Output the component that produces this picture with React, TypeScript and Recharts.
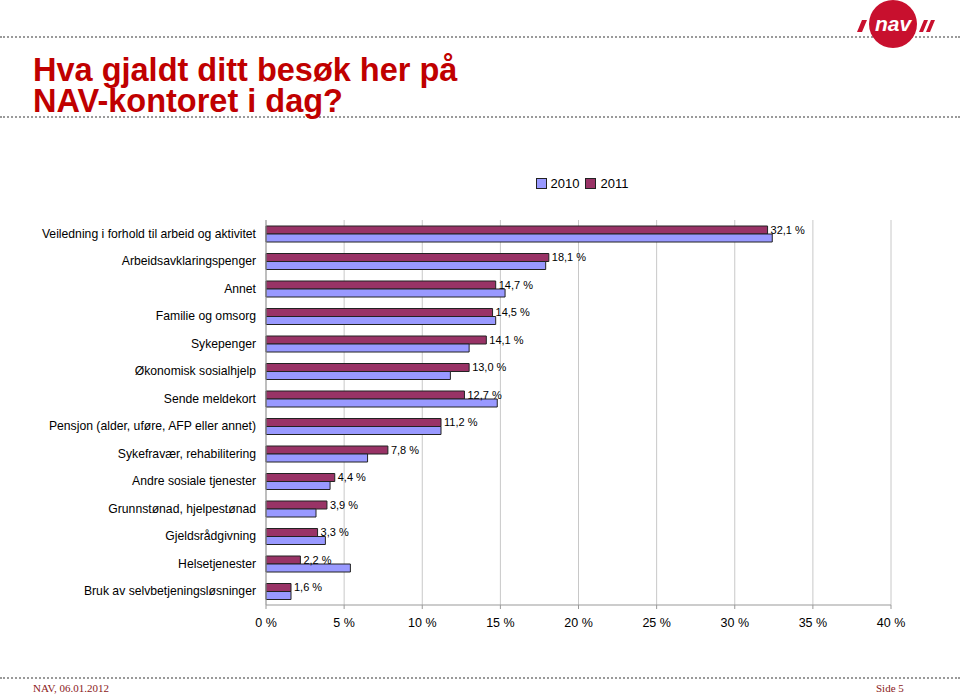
import React from "react";
import { BarChart, Bar, XAxis, YAxis, CartesianGrid, Legend, LabelList } from "recharts";

const categories = [
  "Veiledning i forhold til arbeid og aktivitet",
  "Arbeidsavklaringspenger",
  "Annet",
  "Familie og omsorg",
  "Sykepenger",
  "Økonomisk sosialhjelp",
  "Sende meldekort",
  "Pensjon (alder, uføre, AFP eller annet)",
  "Sykefravær, rehabilitering",
  "Andre sosiale tjenester",
  "Grunnstønad, hjelpestønad",
  "Gjeldsrådgivning",
  "Helsetjenester",
  "Bruk av selvbetjeningsløsninger",
];

const values2010 = [32.4, 17.9, 15.3, 14.7, 13.0, 11.8, 14.8, 11.2, 6.5, 4.1, 3.2, 3.8, 5.4, 1.6];
const values2011 = [32.1, 18.1, 14.7, 14.5, 14.1, 13.0, 12.7, 11.2, 7.8, 4.4, 3.9, 3.3, 2.2, 1.6];

const xTicks = [0, 5, 10, 15, 20, 25, 30, 35, 40];

const COLOR_2010 = "#9999ff";
const COLOR_2011 = "#993366";
const FONT = "'Liberation Sans', Arial, sans-serif";

const pct = (v: number) => `${v.toFixed(1).replace(".", ",")} %`;

const data = categories.map((name, i) => ({ name, y2010: values2010[i], y2011: values2011[i] }));

// plain tick so long names stay on one line
function CategoryTick(props: any) {
  const { x, y, payload } = props;
  return (
    <text x={x - 2} y={y} dy={4} textAnchor="end" fill="#000" fontSize={12.2} fontFamily={FONT}>
      {payload.value}
    </text>
  );
}

function LegendBox() {
  const item = (color: string, label: string, gap: number) => (
    <span style={{ display: "inline-flex", alignItems: "center", marginRight: gap }}>
      <span style={{ width: 9, height: 9, background: color, border: "1px solid #222", marginRight: 4 }} />
      <span>{label}</span>
    </span>
  );
  return (
    <div style={{ fontFamily: FONT, fontSize: 13, color: "#000", display: "flex", justifyContent: "center" }}>
      {item(COLOR_2010, "2010", 6)}
      {item(COLOR_2011, "2011", 0)}
    </div>
  );
}

function NavLogo() {
  return (
    <svg width={90} height={52} style={{ position: "absolute", left: 855, top: 0 }}>
      <circle cx={38} cy={24} r={24} fill="#c8102e" />
      <text x={38} y={31} textAnchor="middle" fill="#fff" fontFamily={FONT} fontWeight="bold" fontStyle="italic" fontSize={21}>
        nav
      </text>
      <polygon points="2,32 7,32 12,20 7,20" fill="#c8102e" />
      <polygon points="64,32 68,32 73,20 69,20" fill="#c8102e" />
      <polygon points="71,32 75,32 80,20 76,20" fill="#c8102e" />
    </svg>
  );
}

const titleStyle: React.CSSProperties = {
  position: "absolute",
  left: 33,
  height: 31,
  fontFamily: FONT,
  fontWeight: "bold",
  fontSize: 32.5,
  lineHeight: "31px",
  color: "#c00000",
  whiteSpace: "nowrap",
};

export default function App() {
  const dotted = (top: number) => (
    <div style={{ position: "absolute", left: 0, top, width: 960, borderTop: "2px dotted #9a9a9a" }} />
  );
  const footer: React.CSSProperties = {
    position: "absolute",
    top: 682,
    fontFamily: "'Liberation Serif', 'Times New Roman', serif",
    fontSize: 11,
    color: "#8b1a1a",
  };
  return (
    <div style={{ position: "absolute", left: 0, top: 0, width: 960, height: 698, background: "#fff", overflow: "hidden" }}>
      {dotted(36)}
      {dotted(116)}
      <NavLogo />
      <div style={{ ...titleStyle, top: 55 }}>Hva gjaldt ditt besøk her på</div>
      <div style={{ ...titleStyle, top: 86 }}>NAV-kontoret i dag?</div>

      <div style={{ position: "absolute", left: 0, top: 0 }}>
        <BarChart
          width={960}
          height={640}
          data={data}
          layout="vertical"
          margin={{ top: 205, right: 69, bottom: 5, left: 0 }}
          barGap={0}
          barSize={8}
        >
          <CartesianGrid horizontal={false} stroke="#c8c8c8" />
          <XAxis
            type="number"
            domain={[0, 40]}
            ticks={xTicks}
            tickFormatter={(v: number) => `${v} %`}
            height={30}
            stroke="#999"
            tickSize={4}
            tick={{ fill: "#000", fontSize: 12.5, fontFamily: FONT }}
            tickMargin={9}
          />
          <XAxis
            xAxisId="top"
            orientation="top"
            type="number"
            domain={[0, 40]}
            height={0}
            tick={false}
            tickLine={false}
            axisLine={{ stroke: "#c8c8c8" }}
          />
          <YAxis
            type="category"
            dataKey="name"
            width={266}
            stroke="#999"
            tickLine={false}
            interval={0}
            tick={<CategoryTick />}
          />
          <Legend
            verticalAlign="top"
            wrapperStyle={{ position: "absolute", top: 176, left: 472, width: 220 }}
            content={() => <LegendBox />}
          />
          <Bar dataKey="y2011" name="2011" fill={COLOR_2011} stroke="#222" strokeWidth={1} isAnimationActive={false}>
            <LabelList
              dataKey="y2011"
              position="right"
              offset={3}
              formatter={(v: number) => pct(v)}
              style={{ fill: "#000", fontSize: 11, fontFamily: FONT }}
            />
          </Bar>
          <Bar dataKey="y2010" name="2010" fill={COLOR_2010} stroke="#222" strokeWidth={1} isAnimationActive={false} />
        </BarChart>
      </div>

      {dotted(677)}
      <div style={{ ...footer, left: 33 }}>NAV, 06.01.2012</div>
      <div style={{ ...footer, left: 876 }}>Side 5</div>
    </div>
  );
}
